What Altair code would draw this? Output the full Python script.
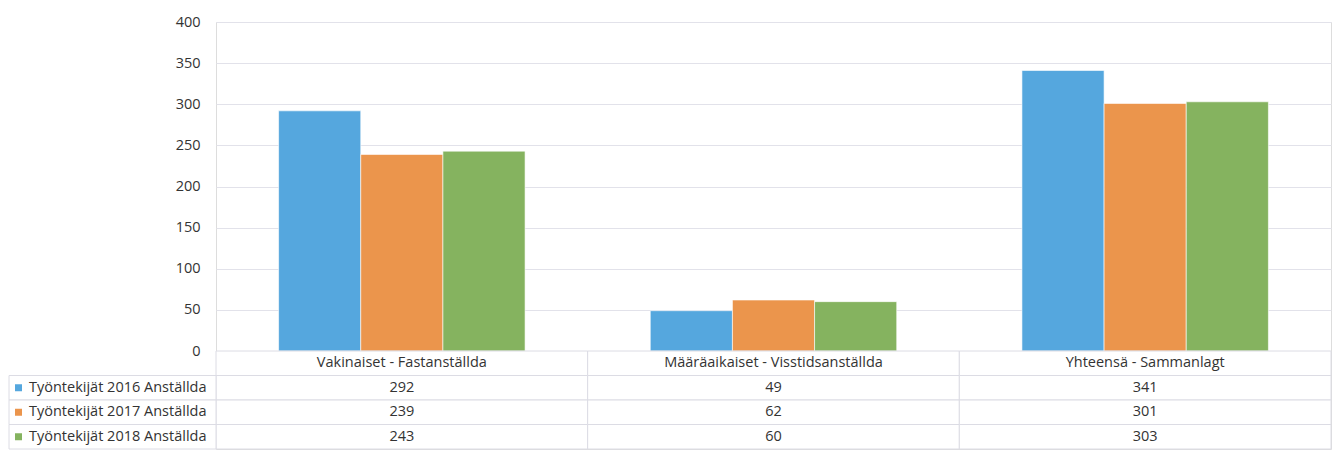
import altair as alt
import pandas as pd

categories = ["Vakinaiset - Fastanställda", "Määräaikaiset - Visstidsanställda", "Yhteensä - Sammanlagt"]
series = ["Työntekijät 2016 Anställda", "Työntekijät 2017 Anställda", "Työntekijät 2018 Anställda"]
values_2016 = [292, 49, 341]
values_2017 = [239, 62, 301]
values_2018 = [243, 60, 303]
colors = ["#55a7de", "#eb954c", "#85b35f"]
y_ticks = [0, 50, 100, 150, 200, 250, 300, 350, 400]

FONT = "Open Sans"
FS = 14.5
TEXT = "#333333"
GRID = "#e2e2ea"
LINE = "#dcdce4"

all_values = [values_2016, values_2017, values_2018]
rows = []
for s, vals in zip(series, all_values):
    for c, v in zip(categories, vals):
        rows.append({"category": c, "series": s, "value": v})
bars_df = pd.DataFrame(rows)

row_order = ["header"] + series
table_rows = []
for c in categories:
    table_rows.append({"category": c, "row": "header", "label": c})
for s, vals in zip(series, all_values):
    for c, v in zip(categories, vals):
        table_rows.append({"category": c, "row": s, "label": str(v)})
table_df = pd.DataFrame(table_rows)
legend_df = pd.DataFrame({"row": series, "series": series})

W = 1115
x_scale = alt.Scale(domain=categories, paddingInner=0, paddingOuter=0)
color_scale = alt.Scale(domain=series, range=colors)

bars = alt.Chart(bars_df).mark_bar(stroke="white", strokeWidth=1, strokeOpacity=0.6).encode(
    x=alt.X("category:N", scale=x_scale, sort=categories, axis=None),
    xOffset=alt.XOffset("series:N", sort=series,
                        scale=alt.Scale(paddingInner=0, paddingOuter=0.762)),
    y=alt.Y("value:Q", scale=alt.Scale(domain=[0, 400], nice=False),
            axis=alt.Axis(values=y_ticks, title=None, domain=False, ticks=False,
                          labelFontSize=FS, labelColor=TEXT, labelPadding=16,
                          labelFont=FONT, gridColor=GRID, gridWidth=1)),
    color=alt.Color("series:N", scale=color_scale, legend=None),
).properties(width=W, height=329)

y_tab = alt.Y("row:N", sort=row_order, scale=alt.Scale(domain=row_order, paddingInner=0, paddingOuter=0), axis=None)
x_tab = alt.X("category:N", scale=x_scale, sort=categories, axis=None)

cells = alt.Chart(table_df).mark_rect(fill="white", stroke=LINE, strokeWidth=1).encode(
    x=x_tab, y=y_tab
)
cell_text = alt.Chart(table_df).mark_text(font=FONT, fontSize=FS, color=TEXT, baseline="middle").encode(
    x=x_tab, y=y_tab, text="label:N"
)
legend_cells = alt.Chart(legend_df).mark_rect(fill="white", stroke=LINE, strokeWidth=1).encode(
    x=alt.value(-207), x2=alt.value(0), y=y_tab
)
legend_sq = alt.Chart(legend_df).mark_square(size=49, opacity=1).encode(
    x=alt.value(-197.5), y=y_tab,
    color=alt.Color("series:N", scale=color_scale, legend=None),
)
legend_text = alt.Chart(legend_df).mark_text(font=FONT, fontSize=FS, color=TEXT, align="left", baseline="middle").encode(
    x=alt.value(-187), y=y_tab, text="series:N"
)

table = alt.layer(cells, cell_text, legend_cells, legend_sq, legend_text).properties(width=W, height=98)

chart = alt.vconcat(bars, table, spacing=0, bounds="flush").properties(
    padding={"left": 0, "top": 5, "right": 0, "bottom": 0}
).configure_view(stroke=None).configure(font=FONT)

chart.save("out.html", embed_options={"renderer": "svg", "actions": False})
